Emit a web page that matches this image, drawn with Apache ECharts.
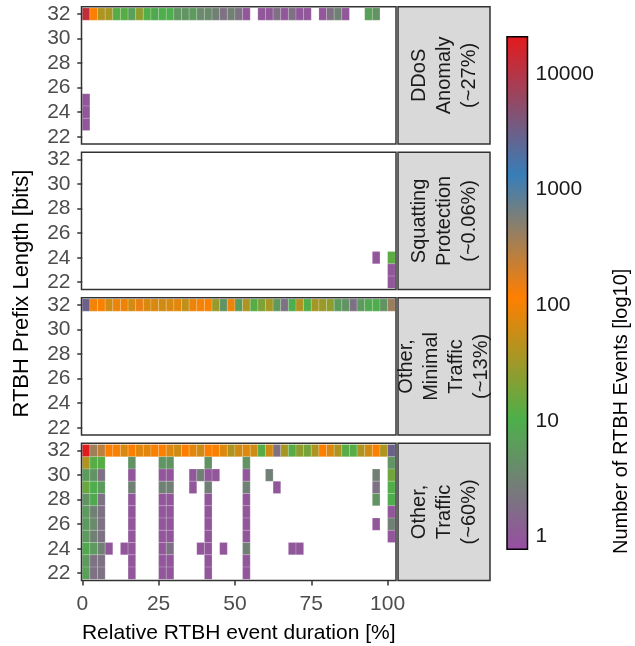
<!DOCTYPE html>
<html><head><meta charset="utf-8">
<script src="https://cdn.jsdelivr.net/npm/echarts@6/dist/echarts.min.js"></script>
<style>html,body{margin:0;padding:0;background:#fff}#c{width:635px;height:646px}</style>
</head><body><div id="c"></div>
<script>
// ---------- data ----------
const xBins = [0,2.5,5,7.5,10,12.5,15,17.5,20,22.5,25,27.5,30,32.5,35,37.5,40,42.5,45,47.5,50,52.5,55,57.5,60,62.5,65,67.5,70,72.5,75,77.5,80,82.5,85,87.5,90,92.5,95,97.5,100];
const prefixTicks = [22,24,26,28,30,32];
const xTicks = [0,25,50,75,100];
const countTicks = [1,10,100,1000,10000];
const panelLabels = ['DDoS\nAnomaly\n(~27%)','Squatting\nProtection\n(~0.06%)','Other,\nMinimal\nTraffic\n(~13%)','Other,\nTraffic\n(~60%)'];

// /32 row counts per bin (null = no events)
const ddosRow32 = [12000,120,40,35,12,12,7,25,11,9,10,10,5,5,6,4,4,3,2,3,2,1,null,1,1,2,1,2,1,1,null,1,2,3,1,null,null,7,5,null,null];
const squatRow32 = [];
const minimalRow32 = [3000,100,110,60,90,90,65,150,70,70,60,70,80,50,90,100,110,30,5,90,6,40,12,20,35,6,2,10,40,11,35,30,25,6,5,2,6,9,10,5,400];
const otherRow32 = [20000,380,260,120,110,70,120,80,80,110,120,75,60,120,80,60,120,110,75,40,60,75,60,12,60,2,35,12,25,18,40,120,70,40,12,12,40,60,110,40,3000];

// other cells: [bin start, prefix length, count]
const ddosRest = [[0,25,1],[0,24,1],[0,23,1]];
const squatRest = [[95,24,1],[100,24,13],[100,23,1],[100,22,1]];
const minimalRest = [];
const otherRest = [
  [0,31,40],[0,30,6],[0,29,15],[0,28,5],[0,27,6],[0,26,6],[0,25,6],[0,24,9],[0,23,6],[0,22,7],
  [2.5,31,12],[2.5,30,5],[2.5,29,10],[2.5,28,9],[2.5,27,3],[2.5,26,4],[2.5,25,3],[2.5,24,6],[2.5,23,2],[2.5,22,2],
  [5,31,12],[5,30,2],[5,29,6],[5,28,2],[5,27,2],[5,26,2],[5,25,2],[5,24,3],[5,23,2],[5,22,2],
  [7.5,24,1],[12.5,24,1],
  [15,31,5],[15,30,1],[15,29,3],[15,28,1],[15,27,1],[15,26,1],[15,25,1],[15,24,1],[15,23,1],[15,22,1],
  [25,31,5],[25,30,1],[25,29,3],[25,28,1],[25,27,1],[25,26,1],[25,25,1],[25,24,1],[25,23,1],[25,22,1],
  [27.5,31,5],[27.5,30,1],[27.5,29,3],[27.5,28,1],[27.5,27,1],[27.5,26,1],[27.5,25,1],[27.5,24,2],[27.5,23,1],[27.5,22,1],
  [35,30,1],[35,29,1],[37.5,30,3],[37.5,24,1],
  [40,31,5],[40,30,1],[40,29,3],[40,28,1],[40,27,1],[40,26,1],[40,25,1],[40,24,1],[40,23,1],[40,22,1],
  [42.5,30,1],[45,24,1],
  [52.5,31,5],[52.5,30,1],[52.5,29,3],[52.5,28,1],[52.5,27,1],[52.5,26,1],[52.5,25,1],[52.5,24,3],[52.5,23,1],[52.5,22,1],
  [60,30,3],[62.5,29,1],[67.5,24,1],[70,24,1],
  [95,30,3],[95,29,2],[95,28,5],[95,26,1],
  [100,31,5],[100,30,17],[100,29,11],[100,28,10],[100,27,1],[100,26,3],[100,25,1]
];

// ---------- styling / layout ----------
const FONT = '"Liberation Sans", Arial, Helvetica, sans-serif';
const colorStops = [[-0.11,[152,78,163]],[1.02,[77,175,74]],[2.07,[255,127,0]],[3.12,[55,126,184]],[4.32,[228,26,28]]];
const cbMin = colorStops[0][0], cbMax = colorStops[colorStops.length-1][0];
function colorFor(count){
  const v = Math.log10(count);
  for (let i=0;i<colorStops.length-1;i++){
    const a=colorStops[i], b=colorStops[i+1];
    if (v<=b[0] || i===colorStops.length-2){
      let t=(v-a[0])/(b[0]-a[0]); t=Math.max(0,Math.min(1,t));
      const c=a[1].map((x,j)=>Math.round(x+(b[1][j]-x)*t));
      return 'rgb('+c.join(',')+')';
    }
  }
}
const PL = 81.5, PW = 314.5, PH = 137.4;
const tops = [6.7, 152.2, 297.7, 443.2];
const STRIP_X = 398, STRIP_W = 92;
const CB = {left:507, top:36.7, width:20.5, height:512.6};

function buildCells(row32, rest){
  const out=[];
  row32.forEach((c,i)=>{ if(c!=null) out.push([xBins[i],32,c]); });
  rest.forEach(d=>out.push(d));
  return out;
}
const panelData = [buildCells(ddosRow32,ddosRest),buildCells(squatRow32,squatRest),buildCells(minimalRow32,minimalRest),buildCells(otherRow32,otherRest)];
const binW = xBins[1]-xBins[0];

function renderCell(params, api){
  const x0=api.value(0), y=api.value(1), c=api.value(2);
  const a=api.coord([x0,y+0.5]), b=api.coord([x0+binW,y-0.5]);
  return {type:'rect', shape:{x:a[0],y:a[1],width:b[0]-a[0],height:b[1]-a[1]},
    style:{fill:colorFor(c), stroke:'rgba(255,255,255,0.3)', lineWidth:0.6}};
}

const grids=[], xAxes=[], yAxes=[], series=[], graphics=[];
tops.forEach((t,i)=>{
  grids.push({left:PL, top:t, width:PW, height:PH, show:false, containLabel:false});
  const last = i===tops.length-1;
  xAxes.push({type:'value', gridIndex:i, min:-0.25, max:102.75,
    axisLine:{show:false}, splitLine:{show:false},
    axisTick:{show:last, customValues:xTicks, length:5, lineStyle:{color:'#333',width:1.5}},
    axisLabel:{show:last, customValues:xTicks, fontSize:21, color:'#4D4D4D', margin:13, fontFamily:FONT},
    name: last ? 'Relative RTBH event duration [%]' : '', nameLocation:'middle', nameGap:42,
    nameTextStyle:{fontSize:21, color:'#000', fontFamily:FONT}});
  yAxes.push({type:'value', gridIndex:i, min:21.4, max:32.6,
    axisLine:{show:false}, splitLine:{show:false},
    axisTick:{show:true, customValues:prefixTicks, length:5, lineStyle:{color:'#333',width:1.5}},
    axisLabel:{customValues:prefixTicks, fontSize:21, color:'#4D4D4D', margin:11, fontFamily:FONT}});
  series.push({type:'custom', xAxisIndex:i, yAxisIndex:i, clip:true, renderItem:renderCell,
    data:panelData[i], encode:{x:0,y:1}});
  graphics.push({type:'rect', z:100, shape:{x:PL,y:t,width:PW,height:PH}, style:{fill:'none',stroke:'#333',lineWidth:1.5}});
  graphics.push({type:'rect', z:100, shape:{x:STRIP_X,y:t,width:STRIP_W,height:PH}, style:{fill:'#D9D9D9',stroke:'#333',lineWidth:1.5}});
  graphics.push({type:'text', z:101, x:STRIP_X+STRIP_W/2, y:t+PH/2, rotation:Math.PI/2,
    style:{text:panelLabels[i], fontSize:20, lineHeight:25, fill:'#1A1A1A', align:'center', verticalAlign:'middle', fontFamily:FONT}});
});

// colour bar grid
grids.push({left:CB.left, top:CB.top, width:CB.width, height:CB.height, show:false});
xAxes.push({type:'value', gridIndex:4, min:0, max:1, show:false});
const cbTickVals = countTicks.map(c=>Math.log10(c));
yAxes.push({type:'value', gridIndex:4, min:cbMin, max:cbMax, position:'left',
  axisLine:{show:false}, splitLine:{show:false}, axisLabel:{show:false},
  axisTick:{show:true, inside:true, customValues:cbTickVals, length:4, lineStyle:{color:'#000',width:1.5}}});
yAxes.push({type:'value', gridIndex:4, min:cbMin, max:cbMax, position:'right',
  axisLine:{show:false}, splitLine:{show:false},
  axisTick:{show:true, inside:true, customValues:cbTickVals, length:4, lineStyle:{color:'#000',width:1.5}},
  axisLabel:{customValues:cbTickVals, fontSize:21, color:'#1A1A1A', margin:8, fontFamily:FONT,
    formatter:v=>String(Math.round(Math.pow(10,v)))}});
series.push({type:'custom', xAxisIndex:4, yAxisIndex:5, clip:false, z:1,
  data:[[0,cbMin,cbMax]],
  renderItem:function(params, api){
    const a=api.coord([0,api.value(2)]), b=api.coord([1,api.value(1)]);
    const stops=colorStops.map(s=>({offset:(s[0]-cbMin)/(cbMax-cbMin), color:'rgb('+s[1].join(',')+')'}));
    return {type:'rect', shape:{x:a[0],y:a[1],width:b[0]-a[0],height:b[1]-a[1]},
      style:{fill:new echarts.graphic.LinearGradient(0,1,0,0,stops), stroke:'#000', lineWidth:1.5}};
  }});

graphics.push({type:'text', x:22, y:tops[0]+(tops[3]+PH-tops[0])/2, rotation:Math.PI/2,
  style:{text:'RTBH Prefix Length [bits]', fontSize:22, fill:'#000', align:'center', verticalAlign:'middle', fontFamily:FONT}});
graphics.push({type:'text', x:621, y:554, rotation:Math.PI/2,
  style:{text:'Number of RTBH Events [log10]', fontSize:20, fill:'#000', align:'left', verticalAlign:'middle', fontFamily:FONT}});

const chart = echarts.init(document.getElementById('c'), null, {renderer:'canvas'});
chart.setOption({animation:false, backgroundColor:'#fff', textStyle:{fontFamily:FONT},
  grid:grids, xAxis:xAxes, yAxis:yAxes, series:series, graphic:graphics});
</script></body></html>
